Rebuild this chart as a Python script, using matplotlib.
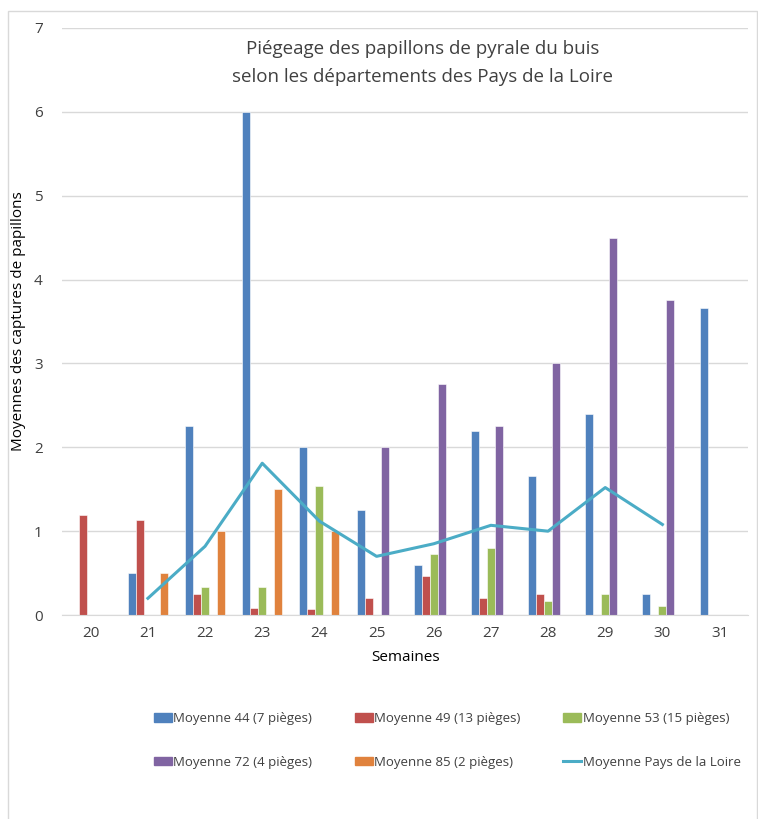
import numpy as np
import matplotlib
matplotlib.use("Agg")
import matplotlib.pyplot as plt
import matplotlib.patches as mpatches
from matplotlib.lines import Line2D

plt.rcParams['font.family'] = ['Open Sans', 'DejaVu Sans']

weeks = ["20", "21", "22", "23", "24", "25", "26", "27", "28", "29", "30", "31"]

# bar series (0 = no bar drawn)
moy_44 = [0, 0.50, 2.25, 6.00, 2.00, 1.25, 0.60, 2.20, 1.66, 2.40, 0.25, 3.66]
moy_49 = [1.19, 1.13, 0.25, 0.09, 0.07, 0.20, 0.47, 0.20, 0.25, 0, 0, 0]
moy_53 = [0, 0, 0.33, 0.33, 1.54, 0, 0.73, 0.80, 0.17, 0.25, 0.11, 0]
moy_72 = [0, 0, 0, 0, 0, 2.00, 2.75, 2.25, 3.00, 4.50, 3.75, 0]
moy_85 = [0, 0.50, 1.00, 1.50, 1.00, 0, 0, 0, 0, 0, 0, 0]
# line series
moy_pdl = [np.nan, 0.20, 0.82, 1.81, 1.12, 0.70, 0.85, 1.07, 1.00, 1.52, 1.08, np.nan]

series = [
    ("Moyenne 44 (7 pièges)", moy_44, "#4F81BD"),
    ("Moyenne 49 (13 pièges)", moy_49, "#C0504D"),
    ("Moyenne 53 (15 pièges)", moy_53, "#9BBB59"),
    ("Moyenne 72 (4 pièges)", moy_72, "#8064A2"),
    ("Moyenne 85 (2 pièges)", moy_85, "#E0823D"),
]
line_color = "#4BACC6"
text_color = "#404040"

fig = plt.figure(figsize=(7.58, 8.19), dpi=100)
ax = fig.add_axes([0.082, 0.249, 0.905, 0.717])

x = np.arange(len(weeks))
w = 0.14
for i, (name, vals, col) in enumerate(series):
    vals = np.array(vals)
    mask = vals > 0
    ax.bar(x[mask] + (i - 2) * w, vals[mask], width=w, color=col,
           edgecolor="white", linewidth=0.4, zorder=2)

ax.plot(x, moy_pdl, color=line_color, linewidth=2.2, zorder=3)

ax.set_xlim(-0.5, len(weeks) - 0.5)
ax.set_ylim(0, 7)
ax.set_yticks(range(8))
ax.set_xticks(x)
ax.set_xticklabels(weeks)
ax.tick_params(axis="both", length=0, labelsize=11, colors=text_color, pad=8)
ax.tick_params(axis="y", pad=14)
ax.grid(axis="y", color="#d9d9d9", linewidth=1, zorder=0)
for s in ["top", "right", "left"]:
    ax.spines[s].set_visible(False)
ax.spines["bottom"].set_color("#d9d9d9")

ax.set_xlabel("Semaines", fontsize=11, color="black", labelpad=6)
ax.set_ylabel("Moyennes des captures de papillons", fontsize=11, color="black", labelpad=6)

fig.text(0.558, 0.923, "Piégeage des papillons de pyrale du buis\nselon les départements des Pays de la Loire",
         ha="center", va="center", fontsize=13.5, color=text_color, linespacing=1.7)

handles = [mpatches.Patch(color=c, label=n) for n, _, c in series]
handles.append(Line2D([0], [0], color=line_color, linewidth=2.2, label="Moyenne Pays de la Loire"))
order = [0, 3, 1, 4, 2, 5]
leg = fig.legend([handles[k] for k in order], [handles[k].get_label() for k in order],
                 ncol=3, loc="center", bbox_to_anchor=(0.59, 0.096), frameon=False,
                 fontsize=9.5, handlelength=1.4, handleheight=0.6, handletextpad=0.1,
                 columnspacing=3.2, labelspacing=2.3, labelcolor=text_color)

fig.patches.append(mpatches.Rectangle((0.0106, -0.01), 0.988, 0.9966, transform=fig.transFigure,
                                      fill=False, edgecolor="#d9d9d9", linewidth=1))

fig.savefig("out.png", dpi=100)
